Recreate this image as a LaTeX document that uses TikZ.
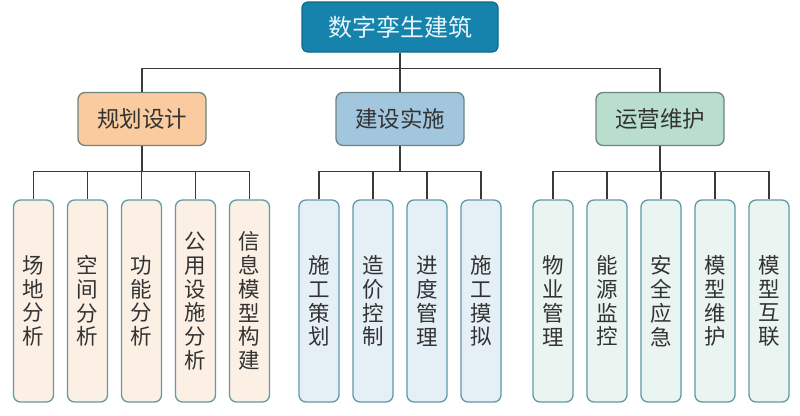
\documentclass[tikz,border=0pt]{standalone}
\usepackage{fontspec}
\setmainfont{Noto Sans CJK SC}
\usepackage{tikz}
\usetikzlibrary{
  positioning,
  calc
}
\definecolor{dtRoot}{HTML}{1583AB}
\definecolor{dtRootLine}{HTML}{0F6A8C}
\definecolor{dtRootText}{HTML}{E8F5FA}
\definecolor{dtPlan}{HTML}{F9CB9E}
\definecolor{dtBuild}{HTML}{A2C6DD}
\definecolor{dtOper}{HTML}{B9DECE}
\definecolor{dtMidLine}{HTML}{6D8480}
\definecolor{dtLeafLine}{HTML}{5E9AA8}
\definecolor{dtPlanLight}{HTML}{FCEFE3}
\definecolor{dtBuildLight}{HTML}{E5EFF6}
\definecolor{dtOperLight}{HTML}{EAF4F0}
\definecolor{dtLink}{HTML}{3A3A3A}
\definecolor{dtText}{HTML}{333333}
\tikzset{
  rootnode/.style={
    draw=dtRootLine, fill=dtRoot, rounded corners=6pt, line width=1.2pt,
    minimum width=196pt, minimum height=50pt, text=dtRootText,
    font=\fontsize{24}{27}\selectfont
  },
  midnode/.style={
    draw=dtMidLine, rounded corners=7pt, line width=1.3pt,
    minimum width=128pt, minimum height=53pt, text=dtText,
    font=\fontsize{22.5}{26}\selectfont
  },
  leafnode/.style={
    draw=dtLeafLine, rounded corners=7pt, line width=1.3pt,
    minimum width=40pt, minimum height=202pt, inner sep=0pt, text=dtText,
    align=center, font=\fontsize{21.5}{23.8}\selectfont
  },
  planleaf/.style={leafnode, fill=dtPlanLight},
  buildleaf/.style={leafnode, fill=dtBuildLight},
  operleaf/.style={leafnode, fill=dtOperLight},
  link/.style={draw=dtLink, line width=1.2pt}
}

\begin{document}
\begin{tikzpicture}[x=1pt, y=1pt, node distance=12.7pt]
  \useasboundingbox (0,0) rectangle (800,-415);

  \node[rootnode] (root) at (400,-27) {数字孪生建筑};

  \node[midnode, fill=dtPlan] (plan) at (142,-119) {规划设计};
  \node[midnode, fill=dtBuild] (build) at (400,-119) {建设实施};
  \node[midnode, fill=dtOper] (oper) at (660,-119) {运营维护};

  % 规划设计
  \node[planleaf] (p1) at (33.5,-301) {场\\地\\分\\析};
  \node[planleaf, right=of p1] (p2) {空\\间\\分\\析};
  \node[planleaf, right=of p2] (p3) {功\\能\\分\\析};
  \node[planleaf, right=of p3] (p4) {公\\用\\设\\施\\分\\析};
  \node[planleaf, right=of p4] (p5) {信\\息\\模\\型\\构\\建};

  % 建设实施
  \node[buildleaf] (b1) at (319,-301) {施\\工\\策\\划};
  \node[buildleaf, right=of b1] (b2) {造\\价\\控\\制};
  \node[buildleaf, right=of b2] (b3) {进\\度\\管\\理};
  \node[buildleaf, right=of b3] (b4) {施\\工\\摸\\拟};

  % 运营维护
  \node[operleaf] (o1) at (553,-301) {物\\业\\管\\理};
  \node[operleaf, right=of o1] (o2) {能\\源\\监\\控};
  \node[operleaf, right=of o2] (o3) {安\\全\\应\\急};
  \node[operleaf, right=of o3] (o4) {模\\型\\维\\护};
  \node[operleaf, right=of o4] (o5) {模\\型\\互\\联};

  \foreach \c in {plan,build,oper}
    \draw[link] (root.south) -- ++(0,-16) -| (\c.north);
  \foreach \c in {p1,p2,p3,p4,p5}
    \draw[link] (plan.south) -- ++(0,-25) -| (\c.north);
  \foreach \c in {b1,b2,b3,b4}
    \draw[link] (build.south) -- ++(0,-25) -| (\c.north);
  \foreach \c in {o1,o2,o3,o4,o5}
    \draw[link] (oper.south) -- ++(0,-25) -| (\c.north);
\end{tikzpicture}
\end{document}
